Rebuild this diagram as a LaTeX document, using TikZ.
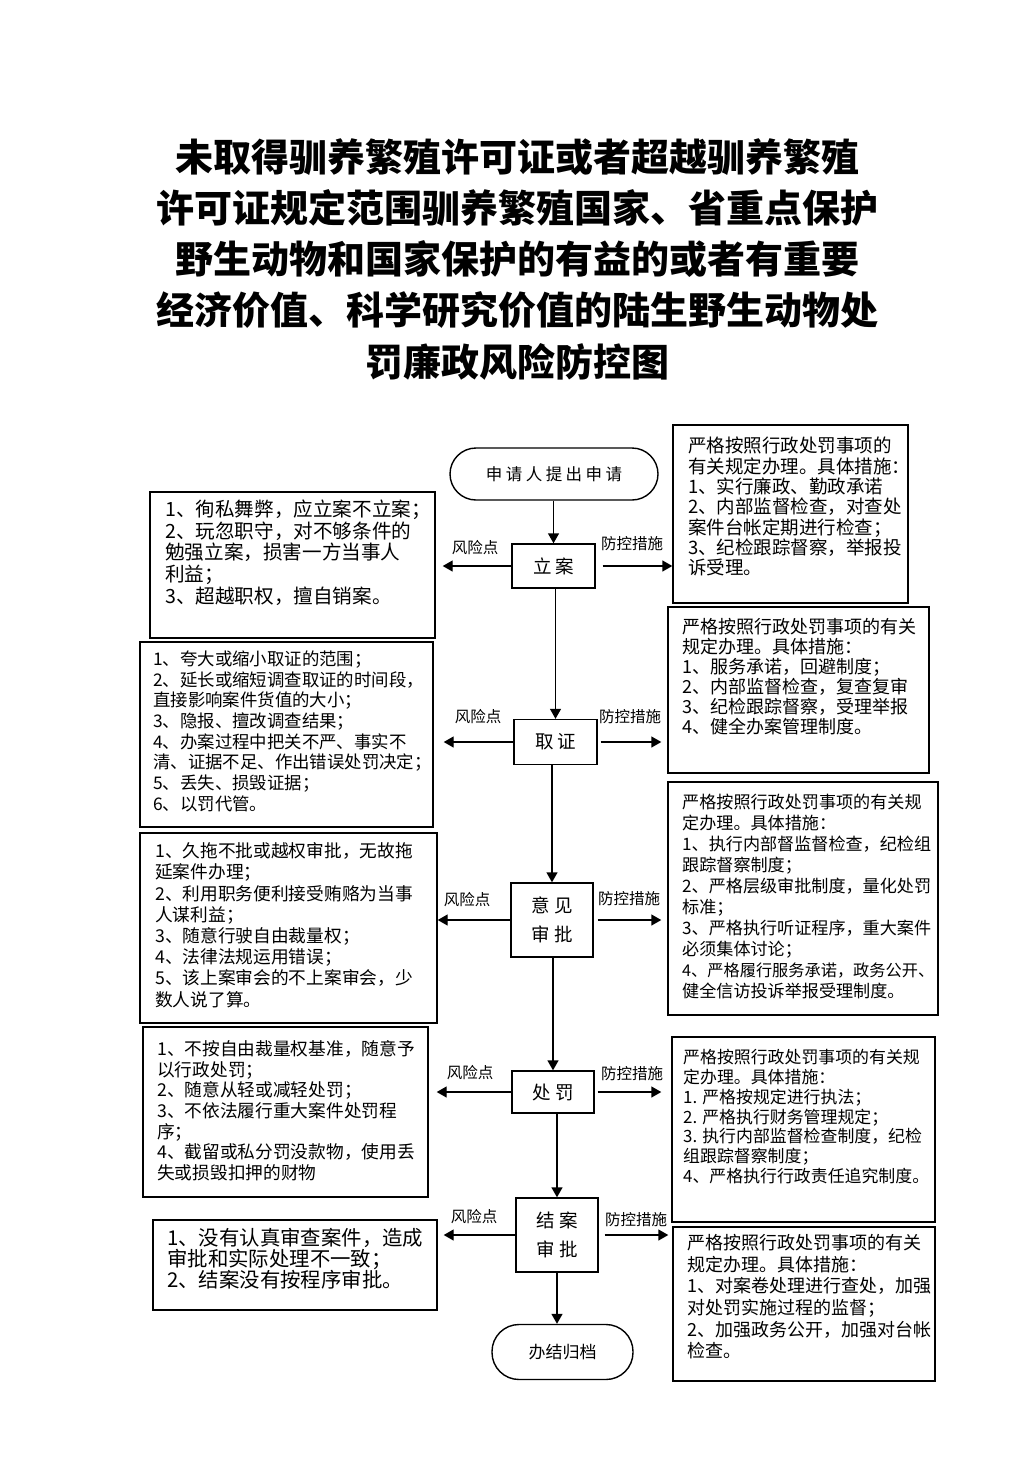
\documentclass[tikz,border=0pt]{standalone}
\usepackage{fontspec}
\setmainfont{Noto Sans CJK SC}
\usetikzlibrary{arrows.meta}
\begin{document}
\begin{tikzpicture}[x=1pt,y=-1pt,
  box/.style={draw, line width=1.4pt, inner sep=0pt},
  proc/.style={draw, line width=1.4pt, inner sep=0pt, font=\fontsize{18.5}{29}\selectfont, align=center},
  term/.style={draw, line width=1.4pt, inner sep=0pt},
  txt/.style={anchor=north west, inner sep=0pt, align=left},
  lab/.style={inner sep=0pt, font=\fontsize{15.5}{16}\selectfont},
  arr/.style={line width=1.4pt, -{Triangle[length=10pt,width=11pt]}},
]
\useasboundingbox[fill=white] (0,0) rectangle (1033,1461);

% title
\node[anchor=north, inner sep=0pt, align=center, font=\fontsize{38}{51.3}\selectfont\bfseries] (title) at (517,138)
{未取得驯养繁殖许可证或者超越驯养繁殖\\
许可证规定范围驯养繁殖国家、省重点保护\\
野生动物和国家保护的有益的或者有重要\\
经济价值、科学研究价值的陆生野生动物处\\
罚廉政风险防控图};

% terminals
\node[term, rounded corners=26pt, minimum width=208pt, minimum height=52pt, font=\fontsize{16.5}{18}\selectfont] (st) at (554,474)
{申\hspace{3.5pt}请\hspace{3.5pt}人\hspace{3.5pt}提\hspace{3.5pt}出\hspace{3.5pt}申\hspace{3.5pt}请};
\node[term, rounded corners=27pt, minimum width=141pt, minimum height=55pt, font=\fontsize{17}{18}\selectfont] (end) at (562.5,1352) {办结归档};

% process boxes
\node[proc, minimum width=83pt, minimum height=44pt] (la) at (553.5,566) {立\hspace{4pt}案};
\node[proc, minimum width=83pt, minimum height=45pt] (qz) at (555.5,742) {取\hspace{4pt}证};
\node[proc, minimum width=82pt, minimum height=74pt] (yj) at (552,920) {意\hspace{4pt}见\\审\hspace{4pt}批};
\node[proc, minimum width=82pt, minimum height=42pt] (cf) at (553,1092) {处\hspace{4pt}罚};
\node[proc, minimum width=82pt, minimum height=74pt] (ja) at (557,1235) {结\hspace{4pt}案\\审\hspace{4pt}批};

% side boxes
\node[box, minimum width=285pt, minimum height=146pt] (L1) at (292.5,565) {};
\node[box, minimum width=235pt, minimum height=178pt] (R1) at (790.5,514) {};
\node[box, minimum width=293pt, minimum height=185pt] (L2) at (286.5,734.5) {};
\node[box, minimum width=261pt, minimum height=166pt] (R2) at (798.5,690) {};
\node[box, minimum width=297pt, minimum height=190pt] (L3) at (288.5,928) {};
\node[box, minimum width=270pt, minimum height=233pt] (R3) at (803,898.5) {};
\node[box, minimum width=285pt, minimum height=170pt] (L4) at (285.5,1112) {};
\node[box, minimum width=263pt, minimum height=185pt] (R4) at (803.5,1129.5) {};
\node[box, minimum width=284pt, minimum height=90pt] (L5) at (295,1265) {};
\node[box, minimum width=262pt, minimum height=154pt] (R5) at (804,1304) {};

% side texts
\node[txt, font=\fontsize{19.6}{21.7}\selectfont] (L1t) at (165,499.5)
{1、徇私舞弊，应立案不立案；\\
2、玩忽职守，对不够条件的\\
勉强立案，损害一方当事人\\
利益；\\
3、超越职权，擅自销案。};
\node[txt, font=\fontsize{18.5}{20.3}\selectfont] (R1t) at (688,437)
{严格按照行政处罚事项的\\
有关规定办理。具体措施：\\
1、实行廉政、勤政承诺\\
2、内部监督检查，对查处\\
案件台帐定期进行检查；\\
3、纪检跟踪督察，举报投\\
诉受理。};
\node[txt, font=\fontsize{17.4}{20.7}\selectfont] (L2t) at (153,650.5)
{1、夸大或缩小取证的范围；\\
2、延长或缩短调查取证的时间段，\\
直接影响案件货值的大小；\\
3、隐报、擅改调查结果；\\
4、办案过程中把关不严、事实不\\
清、证据不足、作出错误处罚决定；\\
5、丢失、损毁证据；\\
6、以罚代管。};
\node[txt, font=\fontsize{18}{20.1}\selectfont] (R2t) at (682,618)
{严格按照行政处罚事项的有关\\
规定办理。具体措施：\\
1、服务承诺，回避制度；\\
2、内部监督检查，复查复审\\
3、纪检跟踪督察，受理举报\\
4、健全办案管理制度。};
\node[txt, font=\fontsize{17.7}{21.2}\selectfont] (L3t) at (155,842.5)
{1、久拖不批或越权审批，无故拖\\
延案件办理；\\
2、利用职务便利接受贿赂为当事\\
人谋利益；\\
3、随意行驶自由裁量权；\\
4、法律法规运用错误；\\
5、该上案审会的不上案审会，少\\
数人说了算。};
\node[txt, font=\fontsize{17.1}{21}\selectfont] (R3t) at (682,793.5)
{严格按照行政处罚事项的有关规\\
定办理。具体措施：\\
1、执行内部督监督检查，纪检组\\
跟踪督察制度；\\
2、严格层级审批制度，量化处罚\\
标准；\\
3、严格执行听证程序，重大案件\\
必须集体讨论；\\
{\fontsize{16.2}{21}\selectfont 4、严格履行服务承诺，政务公开、}\\
健全信访投诉举报受理制度。};
\node[txt, font=\fontsize{17.7}{20.6}\selectfont] (L4t) at (157,1040.5)
{1、不按自由裁量权基准，随意予\\
以行政处罚；\\
2、随意从轻或减轻处罚；\\
3、不依法履行重大案件处罚程\\
序；\\
4、截留或私分罚没款物，使用丢\\
失或损毁扣押的财物};
\node[txt, font=\fontsize{16.9}{19.7}\selectfont] (R4t) at (683,1049.5)
{严格按照行政处罚事项的有关规\\
定办理。具体措施：\\
1. 严格按规定进行执法；\\
2. 严格执行财务管理规定；\\
3. 执行内部监督检查制度，纪检\\
组跟踪督察制度；\\
4、严格执行行政责任追究制度。};
\node[txt, font=\fontsize{20.4}{20.8}\selectfont] (L5t) at (167,1228)
{1、没有认真审查案件，造成\\
审批和实际处理不一致；\\
2、结案没有按程序审批。};
\node[txt, font=\fontsize{18}{21.7}\selectfont] (R5t) at (687,1234)
{严格按照行政处罚事项的有关\\
规定办理。具体措施：\\
1、对案卷处理进行查处，加强\\
对处罚实施过程的监督；\\
2、加强政务公开，加强对台帐\\
检查。};

% labels
\node[lab] (la-r) at (475,548) {风险点};
\node[lab] (la-p) at (632,544) {防控措施};
\node[lab] (qz-r) at (478,717) {风险点};
\node[lab] (qz-p) at (630,717) {防控措施};
\node[lab] (yj-r) at (467,900) {风险点};
\node[lab] (yj-p) at (629,899) {防控措施};
\node[lab] (cf-r) at (470,1073) {风险点};
\node[lab] (cf-p) at (632,1074) {防控措施};
\node[lab] (ja-r) at (474,1217) {风险点};
\node[lab] (ja-p) at (636,1220) {防控措施};

% vertical flow
\draw[arr] (la.north |- st.south) -- (la.north);
\draw[arr] (qz.north |- la.south) -- (qz.north);
\draw[arr] (yj.north |- qz.south) -- (yj.north);
\draw[arr] (cf.north |- yj.south) -- (cf.north);
\draw[arr] (ja.north |- cf.south) -- (ja.north);
\draw[arr] (ja.south) -- (ja.south |- end.north);

% horizontal arrows
\draw[arr, shorten >=7pt] (la.west) -- (la.west -| L1.east);
\draw[arr, shorten <=7pt] (la.east) -- (la.east -| R1.west);
\draw[arr, shorten >=10pt] (qz.west) -- (qz.west -| L2.east);
\draw[arr, shorten <=3pt, shorten >=6pt] (qz.east) -- (qz.east -| R2.west);
\draw[arr] (yj.west) -- (yj.west -| L3.east);
\draw[arr, shorten <=4pt, shorten >=6pt] (yj.east) -- (yj.east -| R3.west);
\draw[arr, shorten >=8pt] (cf.west) -- (cf.west -| L4.east);
\draw[arr, shorten <=3pt, shorten >=10pt] (cf.east) -- (cf.east -| R4.west);
\draw[arr, shorten >=6pt] (ja.west) -- (ja.west -| L5.east);
\draw[arr, shorten <=6pt, shorten >=4pt] (ja.east) -- (ja.east -| R5.west);
\end{tikzpicture}
\end{document}
